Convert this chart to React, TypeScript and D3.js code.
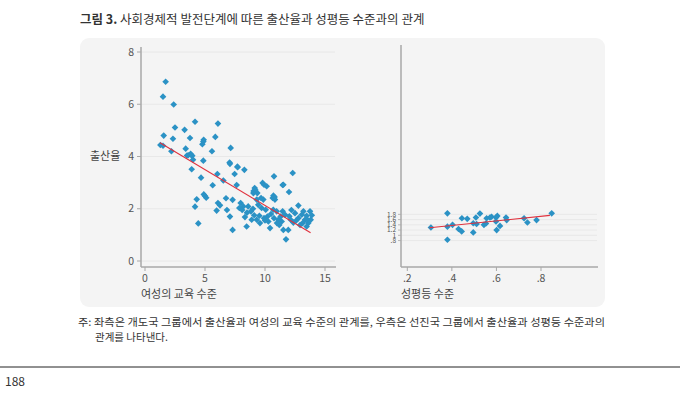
import React from 'react';
import * as d3 from 'd3';

// left panel: developing countries, female education vs fertility
const eduX = [
  1.72, 1.5, 2.39, 2.5, 4.17, 6.08, 3.3, 1.56, 2.33, 3.75, 5.86, 4.89, 4.78, 4.86, 1.28, 1.5,
  3.39, 7.14, 2.2, 5.58, 3.8, 3.94, 3.5, 3.6, 3.85, 4.0, 7.05, 7.7, 3.89, 4.86,
  7.08, 7.72, 8.28, 7.47, 6.03, 6.53, 4.67, 5.64, 7.64, 4.31, 4.17, 5.0, 5.1, 4.9,
  6.08, 6.25, 5.97, 6.75, 7.3, 6.83, 7.08, 4.44, 7.3, 7.97, 7.86, 8.19, 8.33, 8.47,
  8.6, 8.83, 9.03, 9.14, 9.36, 8.89, 9.31, 9.53, 9.8, 9.92, 10.14, 9.86, 9.67, 9.31,
  9.44, 9.72, 10.06, 9.92, 9.58, 10.28, 10.42, 10.75, 10.64, 10.83, 10.69, 10.97, 10.75,
  11.11, 11.19, 11.53, 12.0, 11.47, 11.67, 11.53, 11.75, 12.31, 12.03, 12.14, 12.36, 12.5,
  12.78, 12.78, 13.06, 13.33, 13.14, 13.47, 13.61, 13.75, 13.47, 13.81, 12.92, 11.94, 11.39,
  9.05, 9.2, 10.7, 10.8, 8.5, 9.1, 10.2, 10.5, 11.0, 12.6, 13.2, 13.9, 13.5, 10.0, 8.1,
  9.0, 12.2, 11.3, 11.47
];
const fertY = [
  6.86, 6.29, 5.99, 5.11, 5.33, 5.26, 5.02, 4.8, 4.68, 4.71, 4.75, 4.64, 4.47, 4.57, 4.44, 4.41,
  4.3, 4.33, 4.2, 4.2, 4.1, 4.03, 4.04, 4.05, 4.06, 3.88, 3.77, 3.61, 3.51, 3.84,
  3.72, 3.59, 3.49, 3.33, 3.33, 3.08, 3.19, 2.9, 2.91, 2.36, 2.08, 2.49, 2.42, 2.55,
  2.22, 2.13, 1.93, 2.4, 2.34, 1.95, 1.7, 1.44, 1.19, 2.22, 2.03, 2.09, 1.68, 1.32,
  2.09, 1.9, 2.6, 2.79, 2.6, 1.58, 1.58, 1.73, 2.99, 2.92, 2.86, 2.35, 2.41, 2.35,
  2.15, 2.03, 1.96, 1.64, 1.45, 1.51, 1.26, 3.24, 2.41, 2.35, 1.96, 1.9, 1.64,
  1.58, 1.38, 2.92, 2.64, 1.9, 1.77, 1.19, 0.83, 3.37, 1.71, 1.58, 1.47, 1.83,
  2.12, 1.64, 1.77, 1.58, 1.45, 1.73, 1.45, 1.9, 1.32, 1.58, 1.38, 1.19, 1.51,
  2.68, 2.72, 2.5, 2.45, 1.85, 1.75, 1.7, 1.8, 1.45, 1.55, 1.9, 1.75, 1.6, 1.55, 1.95,
  2.0, 1.95, 1.7, 2.91
];
const eduFitX = [1.25, 13.8];
const eduFitY = [4.53, 1.08];
const eduTicks = [0, 5, 10, 15];
const fertTicksLeft = [0, 2, 4, 6, 8];

// right panel: developed countries, gender equality vs fertility
const eqX = [
  0.306, 0.38, 0.38, 0.38, 0.403, 0.43, 0.444, 0.445, 0.469, 0.496, 0.496, 0.508, 0.511, 0.526,
  0.544, 0.553, 0.556, 0.571, 0.578, 0.598, 0.598, 0.601, 0.604, 0.616, 0.643, 0.646, 0.724,
  0.739, 0.78, 0.848
];
const eqFertY = [
  1.3, 1.84, 1.33, 0.83, 1.4, 1.24, 1.15, 1.65, 1.63, 1.46, 1.11, 1.68, 1.43, 1.83,
  1.4, 1.45, 1.65, 1.68, 1.71, 1.68, 1.53, 1.2, 1.74, 1.36, 1.68, 1.58, 1.65,
  1.49, 1.58, 1.84
];
const eqFitX = [0.3, 0.84];
const eqFitY = [1.29, 1.76];
const eqTicks = [0.2, 0.4, 0.6, 0.8];
const fertTicksRight = [0.8, 1, 1.2, 1.4, 1.6, 1.8];

const fmtDec = (v: number) => (Number.isInteger(v) ? String(v) : String(v).replace(/^0/, ''));

const FONT = '"Noto Sans CJK KR", "Noto Sans", sans-serif';
const DOT = '#2b92c5';
const FIT = '#e0313d';
const AXIS = '#a8a8a8';
const GRID = '#e4e4e4';
const TXT = '#555';

const App: React.FC = () => {
  const W = 688;
  const H = 409;

  const yL = d3.scaleLinear().domain([0, 8]).range([261, 52]);
  const xL = d3.scaleLinear().domain([0, 15]).range([145, 325]);
  const xR = d3.scaleLinear().domain([0.2, 0.8]).range([407.3, 541]);
  const yR = d3.scaleLinear().domain([0, 8]).range([261.5, 52]);

  const baseY = 267;
  const leftAxisX = 141;
  const rightAxisX = 401;

  const marker = d3.symbol().type(d3.symbolSquare).size(22)() ?? '';
  const fitLine = d3.line<[number, number]>();

  const leftFit = fitLine(eduFitX.map((v, i) => [xL(v), yL(eduFitY[i])]));
  const rightFit = fitLine(eqFitX.map((v, i) => [xR(v), yR(eqFitY[i])]));

  return (
    <svg
      width={W}
      height={H}
      style={{ position: 'absolute', left: 0, top: 0, background: '#fff' }}
      fontFamily={FONT}
    >
      <text x={80} y={24} fontSize={12.5} fill="#333">
        <tspan fontWeight="bold">그림 3.</tspan>
        <tspan> 사회경제적 발전단계에 따른 출산율과 성평등 수준과의 관계</tspan>
      </text>

      <rect x={80} y={38} width={525} height={269} rx={9} fill="#f4f4f4" />

      {/* left panel */}
      <g>
        {fertTicksLeft.map(t => (
          <g key={t}>
            <line x1={leftAxisX} x2={335} y1={yL(t)} y2={yL(t)} stroke={GRID} strokeWidth={0.8} />
            <line x1={leftAxisX - 4} x2={leftAxisX} y1={yL(t)} y2={yL(t)} stroke={AXIS} />
            <text x={leftAxisX - 7} y={yL(t)} dy="0.35em" textAnchor="end" fontSize={10.5} fill={TXT}>
              {t}
            </text>
          </g>
        ))}
        <line x1={leftAxisX} x2={leftAxisX} y1={47} y2={baseY} stroke={AXIS} strokeWidth={1.5} />
        <line x1={leftAxisX} x2={336} y1={baseY} y2={baseY} stroke={AXIS} strokeWidth={1.5} />
        {eduTicks.map(t => (
          <g key={t}>
            <line x1={xL(t)} x2={xL(t)} y1={baseY} y2={baseY + 4} stroke={AXIS} />
            <text x={xL(t)} y={282} textAnchor="middle" fontSize={10.5} fill={TXT}>
              {t}
            </text>
          </g>
        ))}
        <text x={90} y={yL(4)} dy="0.35em" fontSize={11} fill="#444">출산율</text>
        <text x={141} y={298} fontSize={11} fill="#444">여성의 교육 수준</text>

        {eduX.map((v, i) => (
          <path
            key={i}
            d={marker}
            transform={`translate(${xL(v)},${yL(fertY[i])}) rotate(45)`}
            fill={DOT}
          />
        ))}
        <path d={leftFit ?? ''} stroke={FIT} strokeWidth={1.1} fill="none" />
      </g>

      {/* right panel: tick labels crowd together, as in the source figure */}
      <g>
        {fertTicksRight.map(t => (
          <g key={t}>
            <line x1={rightAxisX} x2={597} y1={yR(t)} y2={yR(t)} stroke={GRID} strokeWidth={0.8} />
            <line x1={rightAxisX - 3} x2={rightAxisX} y1={yR(t)} y2={yR(t)} stroke={AXIS} strokeWidth={0.8} />
            <text x={rightAxisX - 5} y={yR(t)} dy="0.35em" textAnchor="end" fontSize={6.5} fill={TXT}>
              {fmtDec(t)}
            </text>
          </g>
        ))}
        <line x1={rightAxisX} x2={rightAxisX} y1={45} y2={baseY} stroke={AXIS} strokeWidth={1.5} />
        <line x1={rightAxisX} x2={598} y1={baseY} y2={baseY} stroke={AXIS} strokeWidth={1.5} />
        {eqTicks.map(t => (
          <g key={t}>
            <line x1={xR(t)} x2={xR(t)} y1={baseY} y2={baseY + 4} stroke={AXIS} />
            <text x={xR(t)} y={282} textAnchor="middle" fontSize={10.5} fill={TXT}>
              {fmtDec(t)}
            </text>
          </g>
        ))}
        <text x={401} y={298} fontSize={11} fill="#444">성평등 수준</text>

        {eqX.map((v, i) => (
          <path
            key={i}
            d={marker}
            transform={`translate(${xR(v)},${yR(eqFertY[i])}) rotate(45)`}
            fill={DOT}
          />
        ))}
        <path d={rightFit ?? ''} stroke={FIT} strokeWidth={1.1} fill="none" />
      </g>

      {/* note */}
      <text x={78} y={326} fontSize={10.5} fill="#333" textLength={527} lengthAdjust="spacingAndGlyphs">
        주: 좌측은 개도국 그룹에서 출산율과 여성의 교육 수준의 관계를, 우측은 선진국 그룹에서 출산율과 성평등 수준과의
      </text>
      <text x={95} y={341} fontSize={10.5} fill="#333">
        관계를 나타낸다.
      </text>

      <line x1={0} x2={680} y1={367} y2={367} stroke="#222" strokeWidth={1} />
      <text x={5} y={386} fontSize={12} fill="#333">188</text>
    </svg>
  );
};

export default App;
